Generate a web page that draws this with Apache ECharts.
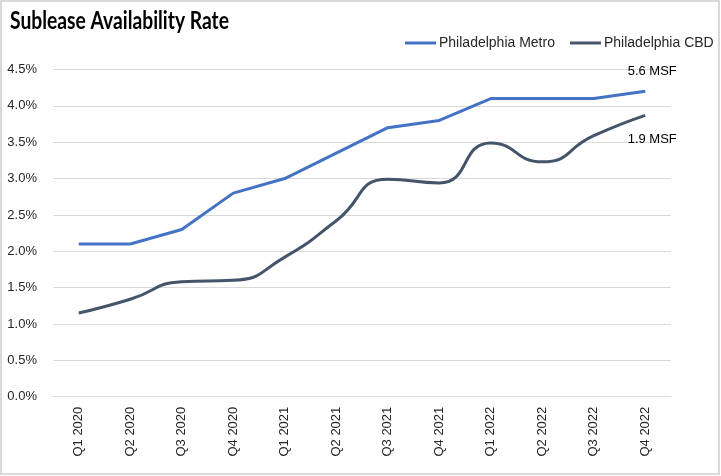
<!DOCTYPE html>
<html>
<head>
<meta charset="utf-8">
<script src="https://cdn.jsdelivr.net/npm/echarts@6/dist/echarts.min.js"></script>
<style>
html,body{margin:0;padding:0;background:#fff;}
#c{width:721px;height:476px;}
</style>
</head>
<body>
<div id="c"></div>
<script>
var categories = ['Q1 2020','Q2 2020','Q3 2020','Q4 2020','Q1 2021','Q2 2021','Q3 2021','Q4 2021','Q1 2022','Q2 2022','Q3 2022','Q4 2022'];
var metro = [2.1, 2.1, 2.3, 2.8, 3.0, 3.35, 3.7, 3.8, 4.1, 4.1, 4.1, 4.2];
var cbd = [1.15, 1.34, 1.58, 1.6, 1.92, 2.42, 2.99, 2.94, 3.49, 3.23, 3.59, 3.87];
var seriesNames = ['Philadelphia Metro', 'Philadelphia CBD'];
var endLabels = ['5.6 MSF', '1.9 MSF'];
var titleText = 'Sublease Availability Rate';
var yTicks = [0, 0.5, 1, 1.5, 2, 2.5, 3, 3.5, 4, 4.5];

var titleFont = 'bold 25px Lato';
var mctx = document.createElement('canvas').getContext('2d');
mctx.font = titleFont;
var titleScale = 219 / mctx.measureText(titleText).width;

var chart = echarts.init(document.getElementById('c'), null, {renderer: 'canvas'});
var last = categories.length - 1;
chart.setOption({
  animation: false,
  backgroundColor: '#fff',
  legend: {
    data: seriesNames,
    left: 405, top: 36, padding: 0,
    itemWidth: 31, itemHeight: 3, itemGap: 15,
    icon: 'rect',
    textStyle: {fontFamily: 'Liberation Sans', fontSize: 14, color: '#262626', padding: [0,0,0,-2]}
  },
  graphic: [{
    type: 'rect', silent: true, z: -1,
    shape: {x: 1, y: 1, width: 718, height: 473},
    style: {fill: 'none', stroke: '#d9d9d9', lineWidth: 2}
  }, {
    type: 'text', silent: true,
    x: 10, y: 21, scaleX: titleScale,
    style: {text: titleText, font: titleFont, fill: '#000', verticalAlign: 'middle', align: 'left'}
  }],
  grid: {left: 53, right: 50, top: 69.5, bottom: 79.3, containLabel: false},
  xAxis: {
    type: 'category', data: categories, boundaryGap: true,
    axisLine: {show: true, lineStyle: {color: '#d9d9d9', width: 1}},
    axisTick: {show: false},
    axisLabel: {rotate: 90, margin: 10, fontFamily: 'Liberation Sans', fontSize: 13, color: '#262626', interval: 0}
  },
  yAxis: {
    type: 'value', min: yTicks[0], max: yTicks[yTicks.length-1], interval: 0.5,
    axisLine: {show: false}, axisTick: {show: false},
    splitLine: {lineStyle: {color: '#d9d9d9', width: 1}},
    axisLabel: {margin: 16, fontFamily: 'Liberation Sans', fontSize: 13, color: '#262626',
      formatter: function(v){ return v.toFixed(1) + '%'; }}
  },
  series: [{
    name: seriesNames[0], type: 'line', data: metro,
    showSymbol: false, symbol: 'none',
    lineStyle: {color: '#4472C4', width: 3}, itemStyle: {color: '#4472C4'},
    markPoint: {
      symbol: 'circle', symbolSize: 0,
      data: [{coord: [categories[last], metro[last]], value: endLabels[0]}],
      label: {show: true, formatter: endLabels[0], offset: [7, -20], fontFamily: 'Liberation Sans', fontSize: 13, color: '#000'}
    }
  }, {
    name: seriesNames[1], type: 'line', data: cbd,
    showSymbol: false, symbol: 'none', smooth: 0.55,
    lineStyle: {color: '#44546A', width: 3}, itemStyle: {color: '#44546A'},
    markPoint: {
      symbol: 'circle', symbolSize: 0,
      data: [{coord: [categories[last], cbd[last]], value: endLabels[1]}],
      label: {show: true, formatter: endLabels[1], offset: [7, 24], fontFamily: 'Liberation Sans', fontSize: 13, color: '#000'}
    }
  }]
});
</script>
</body>
</html>
